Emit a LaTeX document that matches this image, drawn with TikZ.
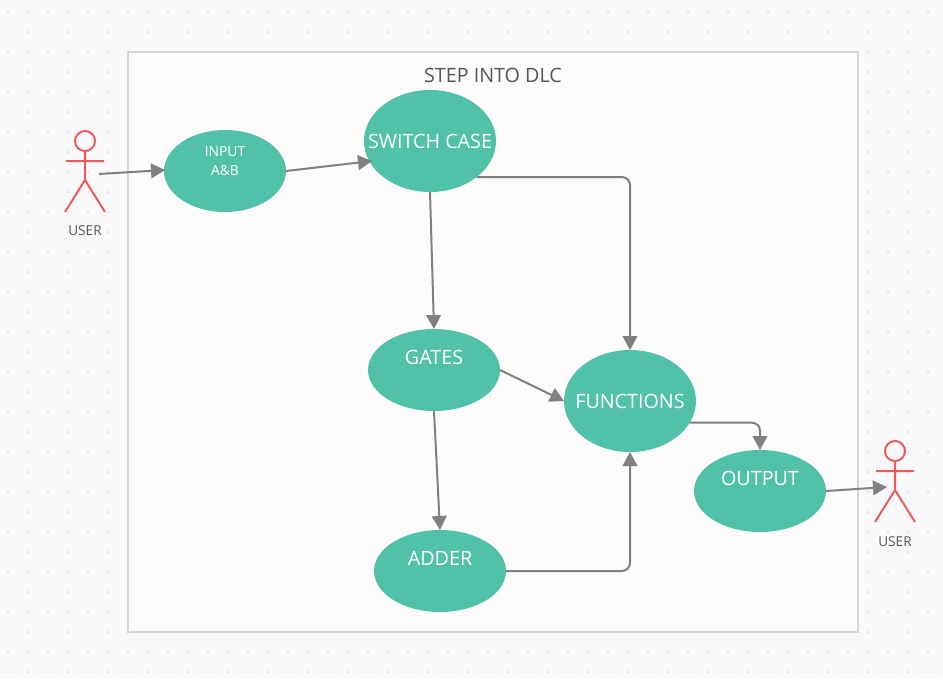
\documentclass[tikz,border=0pt]{standalone}
\usepackage{fontspec}
\setmainfont{Open Sans}
\usetikzlibrary{arrows.meta,shapes.geometric}
\definecolor{pagebg}{HTML}{F9F9FC}
\definecolor{griddot}{HTML}{E2E4E9}
\definecolor{framefill}{HTML}{FDFCFB}
\definecolor{frameline}{HTML}{D6D6D6}
\definecolor{teal}{HTML}{51C1AA}
\definecolor{actorred}{HTML}{EE5A5C}
\definecolor{linkgray}{HTML}{808080}
\definecolor{inktext}{HTML}{555555}
% text placed at a vertical offset (in px) from the node centre, taking no room in the node
\newcommand{\offtext}[2]{\smash{\makebox[0pt]{\raisebox{\dimexpr -#1\dimexpr0.75pt\relax-0.357em\relax}{#2}}}}
\tikzset{
  x=0.75pt,y=-0.75pt,
  usecase/.style={ellipse,fill=teal,draw=none,inner sep=0pt,outer sep=0pt,
    minimum width=99pt,minimum height=61.5pt,text=white,font=\fontsize{14.8}{17}\selectfont},
  smallcase/.style={usecase,minimum width=91.5pt,font=\fontsize{10.4}{12}\selectfont},
  tallcase/.style={usecase,minimum height=76.5pt},
  link/.style={draw=linkgray,line width=1.5pt,-{Triangle[length=10.5pt,width=11pt]},rounded corners=6pt},
  actor/.style={draw=actorred,line width=1.5pt},
  caption/.style={text=inktext,inner sep=0pt,font=\fontsize{10.2}{12}\selectfont},
  title/.style={text=inktext,inner sep=0pt,font=\fontsize{14.8}{17}\selectfont},
}
\begin{document}
\begin{tikzpicture}
\useasboundingbox (0,0) rectangle (943,679);
\fill[pagebg] (0,0) rectangle (943,679);
\foreach \gx in {8,28,...,928}
  \foreach \gy in {12,32,...,672}
    \fill[griddot] (\gx,\gy) circle[radius=1.5];
\draw[draw=frameline,fill=framefill,line width=1.5pt] (128,52) rectangle (858,632);
\node[title] (heading) at (493,75.5) {STEP INTO DLC};

% actors
\draw[actor,fill=pagebg] (85,141) circle[radius=10];
\draw[actor] (85,151) -- (85,180) (66,161) -- (104,161) (65,212) -- (85,180) -- (105,212);
\node[caption] (user1) at (85,231) {USER};
\coordinate (userout) at (99,174);
\draw[actor,fill=pagebg] (895,451) circle[radius=10];
\draw[actor] (895,461) -- (895,490) (876,471) -- (914,471) (875,522) -- (895,490) -- (915,522);
\node[caption] (user2) at (895,541.5) {USER};
\coordinate (userin) at (887,487);
\coordinate (inputin) at (165,170);
\coordinate (switchin) at (372,161);

% use cases
\node[smallcase] (input) at (225,171) {\offtext{-19}{INPUT}\offtext{0}{A\&B}};
\node[tallcase] (switch) at (430,141) {\offtext{0}{SWITCH CASE}};
\node[usecase] (gates) at (434,370) {\offtext{-13}{GATES}};
\node[tallcase] (functions) at (630,401) {\offtext{0}{FUNCTIONS}};
\node[usecase] (output) at (760,491) {\offtext{-13}{OUTPUT}};
\node[usecase] (adder) at (440,571) {\offtext{-13}{ADDER}};

% connectors
\draw[link] (userout) -- (inputin);
\draw[link] (input.east) -- (switchin);
\draw[link] (switch.south east) -| (functions.north);
\draw[link] (switch.south) -- (gates.north);
\draw[link] (gates.east) -- (functions.west);
\draw[link] (gates.south) -- (adder.north);
\draw[link] (adder.east) -| (functions.south);
\draw[link] (functions.-20) -| (output.north);
\draw[link] (output.east) -- (userin);
\end{tikzpicture}
\end{document}
